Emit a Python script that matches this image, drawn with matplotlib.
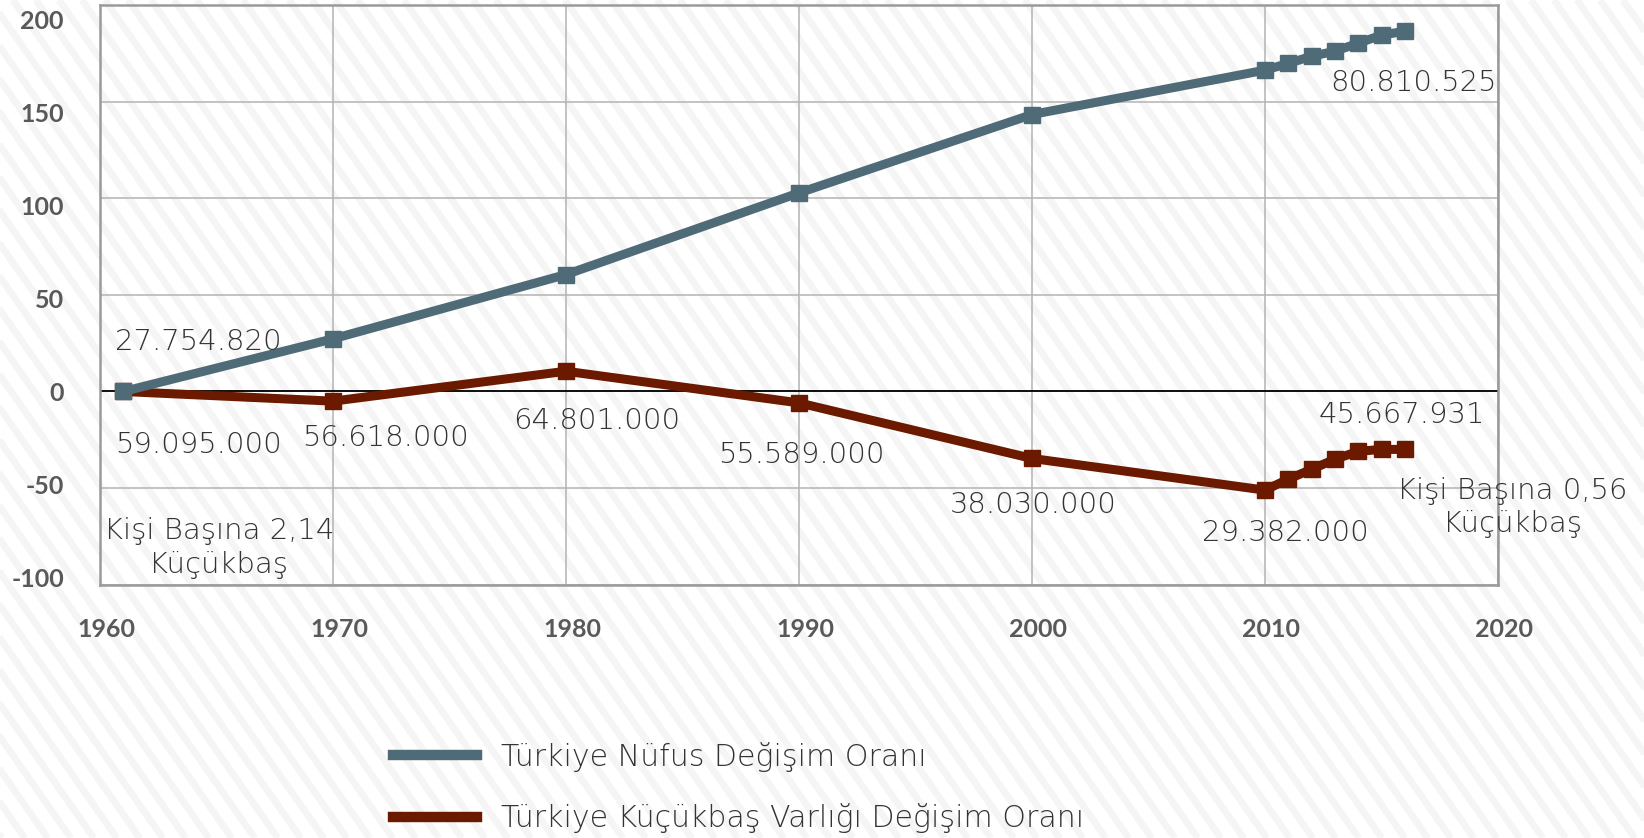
import matplotlib.pyplot as plt
import matplotlib.transforms as mtransforms
from matplotlib import font_manager as fm
from matplotlib.lines import Line2D
import numpy as np

plt.rcParams["axes.unicode_minus"] = False

# data (change in % relative to first year)
years = [1961, 1970, 1980, 1990, 2000, 2010, 2011, 2012, 2013, 2014, 2015, 2016]
nufus = [0, 27.3, 60.6, 102.9, 143.5, 166.5, 170.0, 173.7, 176.3, 180.5, 184.6, 186.7]
kucukbas = [0, -5.0, 10.5, -5.9, -34.7, -51.1, -45.4, -40.3, -35.1, -31.0, -30.0, -30.0]

series_names = ["Türkiye Nüfus Değişim Oranı", "Türkiye Küçükbaş Varlığı Değişim Oranı"]
xticks = [1960, 1970, 1980, 1990, 2000, 2010, 2020]
yticks = [-100, -50, 0, 50, 100, 150, 200]

# annotation texts and where they sit (data coords)
notes = ["27.754.820", "59.095.000", "56.618.000", "Kişi Başına 2,14\nKüçükbaş",
         "64.801.000", "55.589.000", "38.030.000", "29.382.000", "45.667.931",
         "Kişi Başına 0,56\nKüçükbaş", "80.810.525"]
note_x = [1960.64, 1960.64, 1968.67, 1965.1, 1981.3, 1990.1, 2000.04, 2010.88, 2015.86, 2020.62, 2016.37]
note_y = [25.5, -27.6, -24.1, -81.1, -15.4, -33.0, -58.9, -73.4, -12.3, -60.2, 159.7]
note_ha = ["left", "left", "left", "center", "center", "center", "center", "center", "center", "center", "center"]

BLUE = "#506b78"
RED = "#6b1a00"
TXT = "#333333"
TICK = "#595959"


def has_light(fam):
    try:
        p = fm.findfont(fm.FontProperties(family=fam, weight="light"), fallback_to_default=False)
    except Exception:
        return False
    return "light" in p.lower() or "thin" in p.lower()


if has_light("DejaVu Sans"):
    note_font = ("DejaVu Sans", "light", 21)
    leg_font = ("DejaVu Sans", "light", 21.6)
else:
    note_font = ("Open Sans", 300, 21)
    leg_font = ("Open Sans", 300, 21.6)

fig = plt.figure(figsize=(16.44, 8.38), dpi=100)

# striped background
bg = fig.add_axes([0, 0, 1, 1], zorder=0)
bg.set_xlim(0, 1644)
bg.set_ylim(838, 0)
bg.axis("off")
dx = 838 / np.tan(np.radians(55))
for x0 in np.arange(-700, 1700, 23):
    bg.plot([x0, x0 + dx], [0, 838], color="#f5f5f5", lw=5, solid_capstyle="butt")

ax = fig.add_axes([100 / 1644, 1 - 584.5 / 838, 1398 / 1644, 579 / 838], zorder=1)
ax.patch.set_alpha(0)

ax.plot(years, kucukbas, color=RED, lw=6.5, marker="s", markersize=11, zorder=3,
        label=series_names[1])
ax.plot(years, nufus, color=BLUE, lw=6.5, marker="s", markersize=11, zorder=4,
        label=series_names[0])
ax.axhline(0, color="black", lw=1.3, zorder=2)

ax.set_xlim(1960, 2020)
ax.set_ylim(-100, 200)
ax.set_xticks(xticks)
ax.set_yticks(yticks)
ax.grid(True, color="#b3b3b3", lw=1.1, zorder=1)
ax.set_axisbelow(True)
for s in ax.spines.values():
    s.set_color("#9a9a9a")
    s.set_linewidth(1.8)
ax.tick_params(length=0, colors=TICK)
ax.tick_params(axis="y", pad=26)
ax.tick_params(axis="x", pad=24)
for lab in ax.get_xticklabels() + ax.get_yticklabels():
    lab.set_fontfamily("Lato")
    lab.set_fontweight("bold")
    lab.set_fontsize(18)
    lab.set_color(TICK)
# labels in the original drift a little from their gridlines
for lab, v in zip(ax.get_yticklabels(), yticks):
    lab.set_transform(lab.get_transform() + mtransforms.ScaledTranslation(0, -v * 0.0007, fig.dpi_scale_trans))
for lab in ax.get_xticklabels():
    lab.set_transform(lab.get_transform() + mtransforms.ScaledTranslation(0.06, 0, fig.dpi_scale_trans))

for t, x, y, ha in zip(notes, note_x, note_y, note_ha):
    ax.text(x, y, t, ha=ha, va="center", color=TXT, family=note_font[0],
            fontweight=note_font[1], fontsize=note_font[2], linespacing=1.25,
            multialignment="center", zorder=5)

handles = [Line2D([], [], color=BLUE, lw=7.5), Line2D([], [], color=RED, lw=7.5)]
leg = fig.legend(handles, series_names, loc="center left", bbox_to_anchor=(393 / 1644, 1 - 787.5 / 838),
                 frameon=False, borderpad=0, borderaxespad=0, handlelength=2.8,
                 handletextpad=0.8, labelspacing=1.05,
                 prop=fm.FontProperties(family=leg_font[0], weight=leg_font[1], size=leg_font[2]))
for t in leg.get_texts():
    t.set_color(TXT)

fig.savefig("out.png", dpi=100)
